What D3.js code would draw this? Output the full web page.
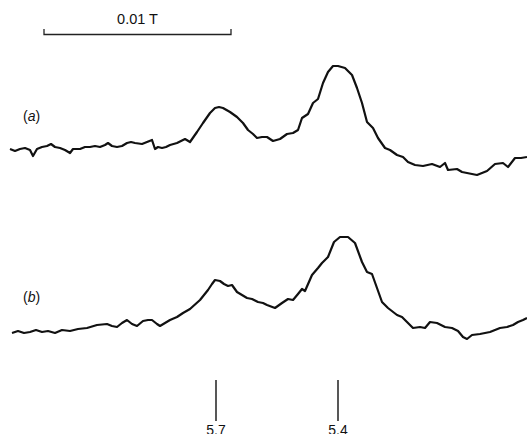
<!DOCTYPE html>
<html><head><meta charset="utf-8">
<script src="https://cdn.jsdelivr.net/npm/d3@7"></script>
<style>body{margin:0;background:#fff}svg{display:block}text{font-family:"Liberation Sans",Arial,sans-serif;fill:#111}</style>
</head><body><div id="chart"></div>
<script>
// x: channel position along the field sweep; y: signal intensity above reference level
const traceA_x = [10,15,20,25,30,33,37,42,47,51,55,60,65,70,73,80,85,90,95,100,105,108,112,117,122,127,131,135,142,147,152,155,158,162,166,170,177,185,190,197,203,210,215,219,223,230,237,243,248,253,257,262,267,273,280,287,293,298,302,308,313,318,323,328,333,338,345,352,357,362,367,373,378,385,390,397,403,408,415,423,432,440,445,448,457,462,467,472,477,487,495,503,508,515,521,527];
const traceA_y = [1,-1,1,2,0,-6,1,3,4,6,3,2,0,-3,1,1,3,3,4,3,5,7,4,3,4,7,8,7,6,8,10,1,3,2,3,5,7,11,8,18,27,37,42,43,42,38,33,27,20,16,12,13,13,9,11,16,17,20,32,36,47,51,67,78,84,84,82,75,62,47,28,22,12,2,0,-5,-7,-12,-15,-16,-14,-17,-13,-20,-19,-22,-23,-24,-25,-21,-14,-13,-17,-8,-8,-7];
const traceB_x = [12,18,24,30,36,42,48,55,62,70,78,87,97,107,112,117,122,127,132,137,143,148,152,157,160,165,170,177,183,190,200,208,212,215,220,224,228,232,237,242,247,252,258,263,267,275,282,288,293,298,302,305,312,318,322,328,334,340,348,355,362,367,372,377,382,388,397,402,408,413,420,425,430,437,445,452,458,463,467,472,480,490,500,507,513,518,523,527];
const traceB_y = [-3,-1,-3,-2,0,-2,-1,-3,0,-1,1,2,5,6,4,3,7,10,6,4,9,10,10,6,4,7,10,13,17,21,30,40,46,50,49,46,44,45,38,35,32,31,28,27,25,22,27,31,30,36,41,39,55,62,67,73,88,93,93,87,68,58,56,42,28,22,15,13,7,2,3,2,8,7,3,2,-1,-7,-9,-5,-4,-2,2,3,5,8,10,12];
const seriesLabels = ["(a)", "(b)"];
const scaleBarRange = [44, 231];
const scaleBarLabel = "0.01 T";
const markerPositions = [216, 338];
const markerLabels = ["5.7", "5.4"];

const W = 527, H = 434;
const svg = d3.select("#chart").append("svg").attr("width", W).attr("height", H);
svg.append("rect").attr("width", W).attr("height", H).attr("fill", "#fff");

const x = d3.scaleLinear().domain([0, 527]).range([0, 527]);
const y = d3.scaleLinear().domain([0, 100]).range([0, -100]);

const traces = [
  {xs: traceA_x, ys: traceA_y, base: 150, label: seriesLabels[0], ly: 121},
  {xs: traceB_x, ys: traceB_y, base: 330, label: seriesLabels[1], ly: 302}
];
const line = d3.line().x(d => x(d[0])).y(d => y(d[1]));
traces.forEach(t => {
  const g = svg.append("g").attr("transform", `translate(0,${t.base})`);
  g.append("path").datum(t.xs.map((v, i) => [v, t.ys[i]]))
    .attr("d", line).attr("fill", "none").attr("stroke", "#111")
    .attr("stroke-width", 2.2).attr("stroke-linejoin", "round");
  const txt = svg.append("text").attr("x", 23).attr("y", t.ly).attr("font-size", 14);
  txt.append("tspan").text("(");
  txt.append("tspan").attr("font-style", "italic").text(t.label.slice(1, -1));
  txt.append("tspan").text(")");
});

// scale bar
const sb = svg.append("g").attr("stroke", "#222").attr("stroke-width", 1.3).attr("fill", "none");
sb.append("path").attr("d", `M${x(scaleBarRange[0])},29V34.5H${x(scaleBarRange[1])}V29`);
svg.append("text").attr("x", (x(scaleBarRange[0]) + x(scaleBarRange[1])) / 2).attr("y", 24)
  .attr("text-anchor", "middle").attr("font-size", 14.5).text(scaleBarLabel);

// markers
markerPositions.forEach((p, i) => {
  svg.append("line").attr("x1", x(p)).attr("x2", x(p)).attr("y1", 380).attr("y2", 421)
    .attr("stroke", "#111").attr("stroke-width", 1.4);
  svg.append("text").attr("x", x(p)).attr("y", 435).attr("text-anchor", "middle")
    .attr("font-size", 14).text(markerLabels[i]);
});
</script></body></html>
